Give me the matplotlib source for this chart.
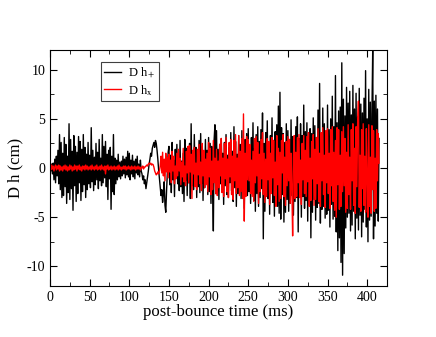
import numpy as np
import matplotlib
matplotlib.use('Agg')
import matplotlib.pyplot as plt
from matplotlib.ticker import MultipleLocator

plt.rcParams['font.family'] = ['Liberation Serif', 'DejaVu Serif']
plt.rcParams['mathtext.fontset'] = 'stix'
plt.rcParams['axes.unicode_minus'] = False

# D h_+ (cm), one sample per ms from 0 ms
h_plus = [
    0.0, -0.3, 0.4, -0.6, 0.5, -1.2, 0.9, -1.5, 1.2, -0.8,
    1.8, -1.6, 3.4, -2.2, 2.6, -3.0, 1.5, -2.8, 3.1, -1.9,
    2.4, -3.6, 1.2, -2.5, 4.5, -3.2, 2.9, -2.1, 1.7, -4.3,
    3.3, -1.8, 2.2, -3.4, 1.6, -2.6, 3.2, -1.5, 2.7, -3.3,
    1.9, -2.4, 3.4, -1.7, 2.1, -3.0, 1.4, -2.2, 2.6, -1.6,
    1.3, -2.0, 4.1, -1.4, 1.8, -2.3, 1.1, -1.7, 2.5, -1.2,
    1.6, -2.1, 2.9, -1.3, 1.0, -1.8, 3.4, -1.5, 2.2, -1.0,
    2.7, -1.9, 1.4, -3.2, 1.8, -1.1, 2.1, -4.2, 1.2, -2.4,
    3.4, -2.7, 1.0, -1.6, 0.8, -1.2, 1.4, -0.9, 0.6, -1.1,
    0.7, -0.8, 1.2, -0.6, 0.9, -1.0, 1.1, -0.7, 1.7, -0.9,
    1.5, -1.2, 0.8, -0.6, 1.3, -0.9, 0.7, -1.1, 0.9, -0.5,
    1.2, -0.7, 0.4, -0.9, 0.8, -0.3, -0.6, -1.2, -0.8, -1.6,
    -1.2, -2.1, -1.5, -0.9, -0.3, 0.4, 0.9, 1.5, 1.2, 2.0,
    2.3, 2.6, 2.1, 2.8, 2.5, 1.8, 0.9, -0.2, -1.1, -2.0,
    -2.8, -2.2, -3.5, -2.7, -1.4, -3.8, -4.5, -2.3, -0.5, 1.6,
    2.2, -1.7, 1.3, -2.5, 2.6, -1.2, 0.8, -2.9, 1.9, -0.9,
    2.4, -1.6, 1.1, -2.3, 2.8, -1.9, 0.7, -2.6, 1.5, -3.4,
    2.9, -1.3, 2.0, -2.8, 1.2, -1.5, 2.5, -3.1, 4.5, -1.8,
    1.7, -2.2, 3.4, -1.4, 2.1, -3.0, 1.0, -1.9, 2.8, -2.5,
    3.5, -1.6, 2.2, -3.3, 1.4, -2.0, 2.9, -1.1, 1.8, -2.7,
    3.1, -2.4, 2.5, -3.6, 2.2, -1.7, -6.4, 2.9, 4.4, -2.6,
    3.8, -2.5, 1.9, -3.2, 2.4, -1.6, 3.0, -2.1, 1.5, -3.7,
    2.6, -1.8, 3.4, -2.7, 1.3, -3.0, 2.1, -1.5, 3.6, -2.3,
    1.7, -3.4, 4.2, -2.0, 2.7, -3.9, 1.4, -2.6, 3.3, -1.9,
    2.4, -3.1, 3.8, -2.2, 1.6, -4.1, 2.9, -1.7, 3.5, -2.8,
    4.0, -2.4, 2.2, -3.6, 3.1, -1.9, 4.6, -3.3, 2.0, -4.4,
    3.4, -2.6, 4.2, -3.9, 2.7, -3.0, 3.9, -2.1, 5.6, -7.2,
    2.5, -4.4, 3.6, -2.3, 4.8, -3.1, 2.2, -4.7, 3.3, -2.0,
    5.1, -3.5, 2.8, -4.9, 3.7, -2.5, 4.4, -3.9, 6.3, -4.6,
    7.7, -5.2, 4.1, -2.7, 3.5, -5.5, 2.6, -4.5, 4.5, -3.2,
    3.8, -4.4, 2.9, -3.6, 4.9, -2.8, 3.2, -4.8, 2.4, -3.4,
    4.2, -3.0, 5.2, -6.5, 3.0, -2.6, 4.5, -5.0, 3.3, -2.9,
    6.4, -4.1, 3.7, -3.3, 4.6, -5.4, 2.8, -3.8, 4.0, -7.1,
    3.5, -4.5, 5.1, -3.2, 4.3, -5.3, 3.1, -4.0, 5.9, -3.6,
    8.6, -5.6, 3.4, -4.2, 6.1, -3.9, 4.5, -5.1, 3.2, -4.7,
    6.4, -4.3, 3.9, -6.0, 5.0, -3.7, 7.3, -5.2, 4.2, -4.9,
    9.4, -6.5, 4.6, -8.4, 5.8, -7.1, 6.2, -9.6, 10.7, -10.9,
    7.0, -8.7, 5.3, -6.1, 8.2, -5.0, 6.6, -4.6, 7.8, -6.4,
    5.4, -5.8, 8.4, -4.4, 6.0, -7.2, 7.6, -5.1, 5.2, -6.3,
    8.1, -4.8, 6.5, -7.0, 5.6, -5.5, 7.1, -4.2, 9.9, -6.0,
    5.0, -7.5, 8.0, -5.3, 6.7, -4.9, 5.5, 12.0, -7.2, 6.8,
    -5.9, 7.4, -4.6, 6.0, -5.4, 3.0,
]

# D h_x (cm), same sampling
h_cross = [
    0.1, -0.2, 0.3, -0.1, 0.2, -0.3, 0.1, 0.3, -0.2, 0.2,
    -0.1, 0.3, -0.3, 0.2, -0.2, 0.1, -0.3, 0.2, -0.1, 0.3,
    -0.2, 0.2, -0.3, 0.1, -0.2, 0.3, -0.1, 0.2, -0.3, 0.1,
    -0.2, 0.3, -0.1, 0.2, -0.3, 0.2, -0.1, 0.3, -0.2, 0.1,
    -0.3, 0.2, -0.1, 0.2, -0.2, 0.3, -0.1, 0.2, -0.2, 0.1,
    -0.1, 0.2, -0.2, 0.3, -0.1, 0.1, -0.2, 0.2, -0.1, 0.3,
    -0.2, 0.1, -0.1, 0.2, -0.2, 0.3, -0.1, 0.1, -0.2, 0.2,
    -0.6, 0.2, -0.1, 0.3, -0.2, 0.1, -0.1, 0.2, -0.2, 0.1,
    -0.1, 0.2, -0.2, 0.1, -0.1, 0.2, -0.2, 0.3, -0.1, 0.1,
    -0.2, 0.1, -0.1, 0.2, -0.1, 0.2, -0.2, 0.1, -0.1, 0.2,
    -0.1, 0.1, -0.2, 0.2, -0.1, 0.1, -0.1, 0.2, -0.2, 0.1,
    -0.1, 0.2, -0.1, 0.1, -0.2, 0.1, 0.0, 0.2, -0.1, 0.1,
    0.1, 0.2, 0.3, 0.2, 0.4, 0.5, 0.4, 0.5, 0.3, 0.4,
    0.35, 0.1, -0.3, -0.5, -0.7, -0.6, -0.4, -0.6, -0.3, 0.2,
    1.2, -0.5, 1.6, -0.8, 0.9, -1.3, 1.5, -0.4, 1.1, -1.0,
    1.4, -0.4, 0.8, -1.5, 1.7, -0.3, 1.2, -1.6, 0.2, -1.1,
    1.5, -0.8, 1.9, -0.3, 1.0, -1.7, 0.6, -0.9, 2.0, -1.4,
    0.2, -1.8, 1.7, -0.5, 2.2, -1.5, 2.3, -0.4, 1.4, -3.1,
    1.8, -0.6, 2.1, -1.9, 0.5, -2.2, 1.9, -0.7, 2.4, -1.6,
    0.6, -2.3, 2.5, -0.8, 1.8, -2.0, 0.9, -1.7, 1.5, -2.4,
    2.6, -0.9, 2.0, -2.7, 0.7, -2.2, 2.8, -1.5, 1.0, -2.6,
    1.9, -2.8, 0.7, -2.0, 2.4, -0.8, 3.0, -2.5, 1.0, -2.9,
    2.5, -1.1, 3.1, -2.4, 0.9, -3.0, 2.6, -0.9, 2.9, -2.7,
    1.2, -3.2, 2.8, -1.3, 3.4, -2.6, 1.0, -2.0, 3.3, -2.8,
    1.7, -2.4, 3.0, -3.1, 5.5, -5.4, 1.5, -2.9, 3.2, -1.2,
    2.9, -1.3, 2.4, -2.6, 0.8, -2.9, 1.7, -3.4, 3.0, -1.5,
    3.2, -0.8, 2.6, -3.6, 1.4, -2.4, 2.9, -1.1, 3.6, -2.7,
    1.5, -3.5, 0.9, -2.9, 3.0, -1.2, 2.7, -3.7, 1.5, -2.6,
    3.1, -1.0, 2.8, -2.8, 0.6, -3.9, 3.3, -1.7, 2.0, -3.4,
    1.6, -3.1, 2.8, -0.5, 3.4, -2.9, 1.1, -3.8, 2.7, -1.8,
    3.2, -1.3, 2.9, -3.6, 1.5, -2.0, -6.9, 1.0, 3.3, -3.1,
    1.6, -2.9, 3.1, -1.5, 3.4, -3.0, 0.8, -3.7, 2.5, -1.2,
    3.3, -2.6, 1.8, -2.9, 3.2, -1.4, 3.6, -3.9, 1.0, -3.3,
    2.7, -1.1, 3.4, -3.8, 1.9, -3.2, 3.1, -1.6, 4.0, -3.4,
    1.5, -3.9, 3.6, -1.3, 4.1, -2.7, 1.3, -4.0, 3.8, -1.5,
    4.0, -2.6, 1.5, -4.1, 3.9, -1.8, 4.2, -3.4, 1.6, -4.3,
    2.8, -5.0, 4.1, -1.7, 3.9, -4.2, 1.3, -3.9, 3.7, -2.4,
    4.2, -1.8, 3.0, -4.5, 1.6, -4.1, 4.4, -2.7, 1.1, -4.2,
    3.9, -1.3, 4.5, -3.8, 2.0, -4.6, 4.2, -1.9, 4.6, 6.8,
    -4.0, 1.3, -4.4, 3.9, -2.1, 4.5, -3.8, 1.2, -4.5, 4.0,
    -1.3, -5.0, 4.4, -3.9, 1.1, -4.6, 4.3, -2.2, 3.8, -4.4,
    1.0, -4.1, 3.9, -1.3, 3.5, 0.5,
]

t_plus = np.arange(len(h_plus))
t_cross = np.arange(len(h_cross))

fig = plt.figure(figsize=(4.36, 3.37), dpi=100)
ax = fig.add_axes([0.1147, 0.1513, 0.7729, 0.7003])

ax.plot(t_plus, h_plus, color='black', lw=1.0, label='D h$_+$')
ax.plot(t_cross, h_cross, color='red', lw=1.0, label='D h$_\\mathrm{x}$')

ax.set_xlim(0, 425)
ax.set_ylim(-12, 12)
ax.xaxis.set_major_locator(MultipleLocator(50))
ax.xaxis.set_minor_locator(MultipleLocator(25))
ax.yaxis.set_major_locator(MultipleLocator(5))
ax.yaxis.set_minor_locator(MultipleLocator(2.5))
ax.tick_params(which='both', direction='in', top=True, right=True, labelsize=10)
ax.tick_params(which='major', length=5)
ax.tick_params(which='minor', length=3)

ax.set_xlabel('post-bounce time (ms)', fontsize=12, labelpad=0)
ax.set_ylabel('D h (cm)', fontsize=12, labelpad=2)

leg = ax.legend(loc='upper left', bbox_to_anchor=(0.15, 0.95), fontsize=9,
                fancybox=False, framealpha=1, edgecolor='#404040',
                handlelength=1.3, borderpad=0.3, labelspacing=0.2,
                handletextpad=0.6, borderaxespad=0)
leg.get_frame().set_linewidth(0.8)

fig.savefig('out.png', dpi=100)
